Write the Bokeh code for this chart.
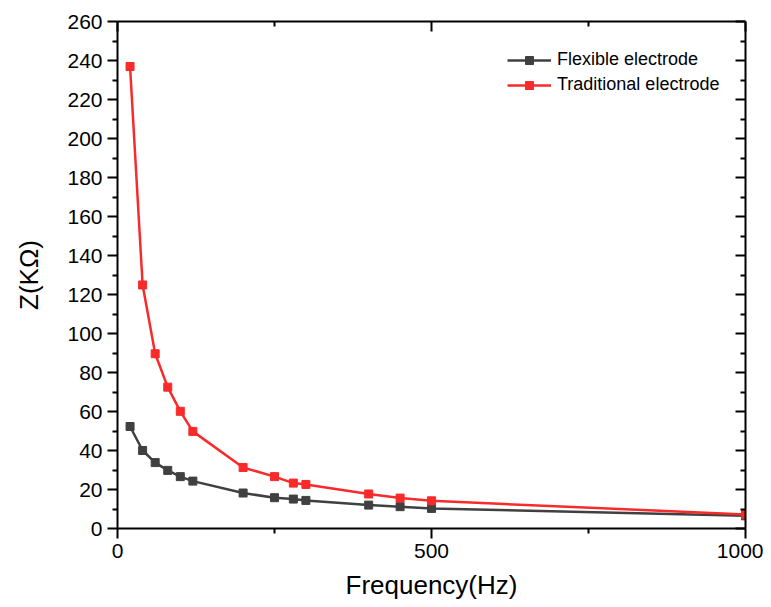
from bokeh.plotting import figure
from bokeh.models import Range1d, LinearAxis, FixedTicker, Legend, LegendItem
from bokeh.embed import file_html
from bokeh.resources import INLINE

freq = [20, 40, 60, 80, 100, 120, 200, 250, 280, 300, 400, 450, 500, 1000]
flexible = [52.3, 40.0, 33.8, 29.8, 26.6, 24.3, 18.2, 15.8, 15.1, 14.4, 12.0, 11.2, 10.3, 6.5]
traditional = [236.9, 124.9, 89.6, 72.5, 60.1, 49.8, 31.3, 26.6, 23.3, 22.6, 17.7, 15.6, 14.2, 7.2]

x_major = [0, 500, 1000]
x_minor = [250, 750]
y_major = list(range(0, 261, 20))
y_minor = list(range(10, 260, 20))

FONT = "Liberation Sans"
DARK = "#404040"
RED = "#f92a2a"

p = figure(width=763, height=607, output_backend="svg", toolbar_location=None,
           x_range=Range1d(0, 1000), y_range=Range1d(0, 260),
           min_border_left=117, min_border_right=18, min_border_top=21, min_border_bottom=79)
p.outline_line_color = None
p.grid.visible = False
p.background_fill_color = "white"
p.border_fill_color = "white"

xt = FixedTicker(ticks=x_major, minor_ticks=x_minor)
yt = FixedTicker(ticks=y_major, minor_ticks=y_minor)

def style_axis(ax, ticker, outward):
    ax.ticker = ticker
    ax.axis_line_width = 2
    ax.axis_line_color = "black"
    ax.major_tick_line_width = 2
    ax.minor_tick_line_width = 2
    ax.major_tick_line_color = "black"
    ax.minor_tick_line_color = "black"
    if outward:
        ax.major_tick_out = 10
        ax.major_tick_in = 0
        ax.minor_tick_out = 5
        ax.minor_tick_in = 0
        ax.major_label_text_font = FONT
        ax.major_label_text_font_size = "21px"
        ax.major_label_text_color = "black"
        ax.major_label_standoff = 5
        ax.axis_label_text_font = FONT
        ax.axis_label_text_font_size = "26px"
        ax.axis_label_text_font_style = "normal"
        ax.axis_label_text_color = "black"
    else:
        ax.major_tick_out = 0
        ax.major_tick_in = 10
        ax.minor_tick_out = 0
        ax.minor_tick_in = 5
        ax.major_label_text_font_size = "0px"
        ax.major_label_standoff = 0
        ax.major_label_text_alpha = 0

xa = p.xaxis[0]
ya = p.yaxis[0]
style_axis(xa, xt, True)
style_axis(ya, yt, True)
xa.axis_label = "Frequency(Hz)"
ya.axis_label = "Z(KΩ)"
xa.axis_label_standoff = 9
ya.axis_label_standoff = 20

top = LinearAxis()
style_axis(top, FixedTicker(ticks=x_major, minor_ticks=x_minor), False)
p.add_layout(top, "above")
right = LinearAxis()
style_axis(right, FixedTicker(ticks=y_major, minor_ticks=y_minor), False)
p.add_layout(right, "right")

l1 = p.line(freq, flexible, line_color=DARK, line_width=2.5)
s1 = p.scatter(freq, flexible, marker="square", size=8, fill_color=DARK, line_color=DARK)
l2 = p.line(freq, traditional, line_color=RED, line_width=2.5)
s2 = p.scatter(freq, traditional, marker="square", size=8, fill_color=RED, line_color=RED)

legend = Legend(items=[LegendItem(label="Flexible electrode", renderers=[l1, s1]),
                       LegendItem(label="Traditional electrode", renderers=[l2, s2])],
                location=(390, 433))
legend.border_line_color = None
legend.background_fill_alpha = 0
legend.padding = 0
legend.margin = 0
legend.spacing = 4
legend.glyph_width = 44
legend.glyph_height = 20
legend.label_height = 20
legend.label_standoff = 6
legend.label_text_font = FONT
legend.label_text_font_size = "18px"
legend.label_text_color = "black"
p.add_layout(legend, "center")

open("out.html", "w").write(file_html(p, INLINE))
